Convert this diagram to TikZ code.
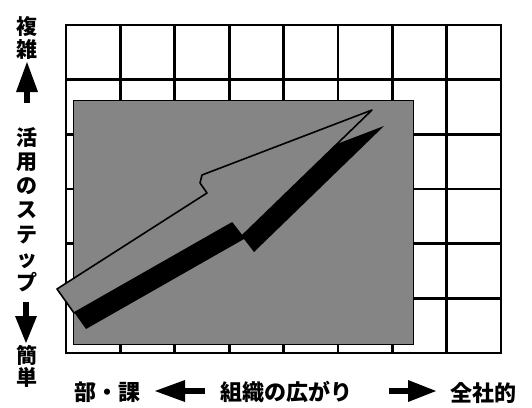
\documentclass[tikz,border=0pt]{standalone}
\usepackage{fontspec}
\newfontfamily\jp{Noto Sans CJK JP}
\usetikzlibrary{arrows.meta}
\definecolor{shade}{gray}{0.52}
\begin{document}
\begin{tikzpicture}[x=1pt,y=-1pt,
  gridline/.style={line width=2.8pt},
  panel/.style={fill=shade, draw=black, line width=1pt},
  bolt/.style={fill=shade, draw=black, line width=1.6pt, line join=round},
  boltshadow/.style={fill=black},
  vtext/.style={font=\jp\bfseries\fontsize{21}{#1}\selectfont, inner sep=0pt, align=center},
  btext/.style={font=\jp\bfseries\fontsize{22}{26}\selectfont, inner sep=0pt},
  axisarrow/.style={line width=6pt, -{Triangle[length=#1, width=22pt, line width=0pt]}}]
\useasboundingbox (0,0) rectangle (532,407);

% grid
\foreach \x in {120.4,174.8,229.1,283.5,337.9,392.3,446.6}
  \draw[gridline] (\x,25) -- (\x,353);
\foreach \y in {79.7,134.3,189,243.7,298.3}
  \draw[gridline] (66,\y) -- (501,\y);
\draw[gridline] (66,25) rectangle (501,353);

% shaded panel
\draw[panel] (73,100) rectangle (413,344);

% lightning arrow: shadow, then outline
\fill[boltshadow, shift={(12,16)}] (57,289) -- (207,193) -- (200,183) -- (202,175) -- (372,110)
  -- (242,236) -- (232,223) -- (74,313) -- cycle;
\draw[bolt] (57,289) -- (207,193) -- (200,183) -- (202,175) -- (372,110)
  -- (242,236) -- (232,223) -- (74,313) -- cycle;

% left axis texts
\node[vtext=23] (complex) at (27,37.5) {複\\雑};
\node[vtext=24.2] (steps) at (27,209.5) {活\\用\\の\\ス\\テ\\ッ\\プ};
\node[vtext=22] (simple) at (27,366) {簡\\単};

\coordinate (upfrom) at (27,103);
\coordinate (upto) at (27,62);
\coordinate (downfrom) at (26,302);
\coordinate (downto) at (26,343);
\draw[axisarrow=30pt] (upfrom) -- (upto);
\draw[axisarrow=27pt] (downfrom) -- (downto);

% bottom axis texts
\node[btext] (dept) at (107.5,392) {部・課};
\node[btext] (org) at (286.5,392) {組織の広がり};
\node[btext] (corp) at (483,393) {全社的};

\coordinate (leftfrom) at (205,391);
\coordinate (leftto) at (155,391);
\coordinate (rightfrom) at (389,391);
\coordinate (rightto) at (436,391);
\draw[axisarrow=30pt] (leftfrom) -- (leftto);
\draw[axisarrow=28pt] (rightfrom) -- (rightto);
\end{tikzpicture}
\end{document}
